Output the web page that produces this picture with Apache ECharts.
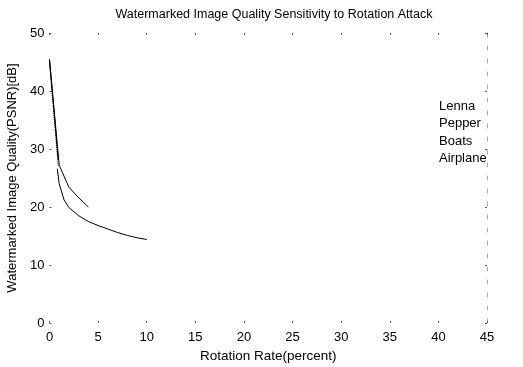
<!DOCTYPE html>
<html>
<head>
<meta charset="utf-8">
<script src="https://cdn.jsdelivr.net/npm/echarts@6/dist/echarts.min.js"></script>
<style>
  html, body { margin: 0; padding: 0; background: #fff; }
  #chart { width: 523px; height: 367px; }
</style>
</head>
<body>
<div id="chart"></div>
<script>
// legend names
var names = ['Lenna', 'Pepper', 'Boats', 'Airplane'];
// rotation rate (percent) and PSNR (dB) of each curve
var lennaX = [0, 1, 2, 3, 4];
var lennaY = [45.3, 27.2, 23.4, 21.6, 20.0];
var pepperX = [0.8, 1, 1.5, 2, 3, 4, 5, 6, 7, 8, 9, 10];
var pepperY = [26.6, 24.0, 21.2, 19.9, 18.5, 17.5, 16.8, 16.2, 15.6, 15.1, 14.7, 14.4];
var boatsX = [0, 0.9];
var boatsY = [44.8, 27.0];
var airplaneX = [0, 0.9];
var airplaneY = [45.5, 28.2];
var xTicks = [0, 5, 10, 15, 20, 25, 30, 35, 40, 45];

function pairs(xs, ys) {
  return xs.map(function (x, i) { return [x, ys[i]]; });
}

var font = 'Liberation Sans, Arial, sans-serif';
var styles = ['solid', 'solid', 'dotted', 'solid'];
var allData = [pairs(lennaX, lennaY), pairs(pepperX, pepperY), pairs(boatsX, boatsY), pairs(airplaneX, airplaneY)];

var chart = echarts.init(document.getElementById('chart'));
var tickStyle = { show: true, inside: true, length: 2, lineStyle: { color: '#555' } };

chart.setOption({
  animation: false,
  textStyle: { fontFamily: font },
  title: {
    text: 'Watermarked Image Quality Sensitivity to Rotation Attack',
    left: 269, top: 3, textAlign: 'center',
    textStyle: { fontSize: 12.5, fontWeight: 'normal', color: '#000', fontFamily: font }
  },
  legend: {
    orient: 'vertical',
    left: 394, top: 95,
    itemWidth: 34, itemHeight: 14, itemGap: 4.3,
    itemStyle: { opacity: 0 },
    lineStyle: { opacity: 0 },
    textStyle: { fontSize: 13, color: '#000', fontFamily: font },
    data: names
  },
  grid: { left: 49.5, right: 36, top: 33, bottom: 44, outerBoundsMode: 'none' },
  xAxis: [{
    type: 'value', min: 0, max: 45, interval: 5,
    name: 'Rotation Rate(percent)', nameLocation: 'middle', nameGap: 23,
    nameTextStyle: { fontSize: 13.5, color: '#000' },
    axisLine: { show: false, onZero: false },
    axisTick: tickStyle,
    splitLine: { show: false },
    axisLabel: { fontSize: 13, color: '#000', margin: 8,
      customValues: xTicks }
  }, {
    type: 'value', position: 'top', min: 0, max: 45, interval: 5,
    axisLine: { show: false, onZero: false }, axisTick: tickStyle,
    axisLabel: { show: false }, splitLine: { show: false }
  }],
  yAxis: [{
    type: 'value', min: 0, max: 50, interval: 10,
    name: 'Watermarked Image Quality(PSNR)[dB]', nameLocation: 'middle', nameGap: 31,
    nameTextStyle: { fontSize: 13, color: '#000' },
    axisLine: { show: false, onZero: false },
    axisTick: tickStyle,
    splitLine: { show: false },
    axisLabel: { fontSize: 13, color: '#000', margin: 5 }
  }, {
    type: 'value', position: 'right', min: 0, max: 50, interval: 10,
    axisLine: { show: true, onZero: false, lineStyle: { color: '#aaa', type: [4, 9], width: 1 } },
    axisTick: tickStyle,
    axisLabel: { show: false }, splitLine: { show: false }
  }],
  series: names.map(function (n, i) {
    return {
      name: n, type: 'line', data: allData[i],
      xAxisIndex: 0, yAxisIndex: 0,
      showSymbol: false, symbol: 'none',
      lineStyle: { color: '#000', width: 1, type: styles[i] },
      itemStyle: { color: '#000' }
    };
  })
});
</script>
</body>
</html>
